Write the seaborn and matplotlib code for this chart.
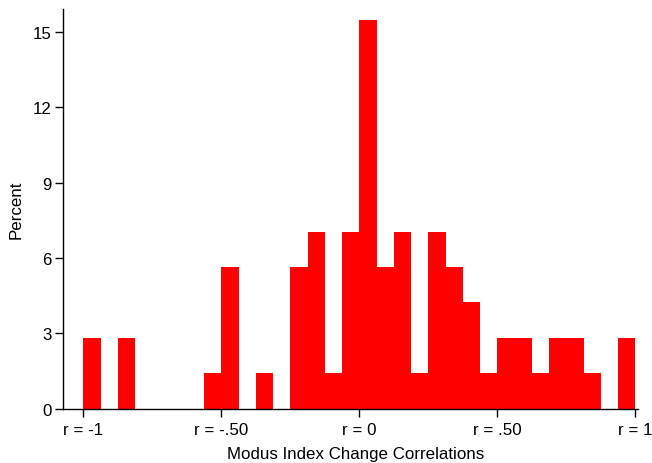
import numpy as np
import pandas as pd
import matplotlib
matplotlib.use("Agg")
import matplotlib.pyplot as plt
import seaborn as sns

# Histogram of correlations: 32 equal bins spanning r = -1 .. 1
bin_lo, bin_hi, n_bins = -1.0, 1.0, 32
bin_counts = [2, 0, 2, 0, 0, 0, 0, 1, 4, 0, 1, 0, 4, 5, 1, 5,
              11, 4, 5, 1, 5, 4, 3, 1, 2, 2, 1, 2, 2, 1, 0, 2]
tick_values = [-1, -0.5, 0, 0.5, 1]
tick_labels = ["r = -1", "r = -.50", "r = 0", "r = .50", "r = 1"]
y_ticks = [0, 3, 6, 9, 12, 15]

edges = np.linspace(bin_lo, bin_hi, n_bins + 1)
centers = (edges[:-1] + edges[1:]) / 2
df = pd.DataFrame({"r": centers, "n": bin_counts})

sns.set_style("ticks")
plt.rcParams["font.family"] = ["Liberation Sans", "DejaVu Sans"]
plt.rcParams["text.color"] = "black"
plt.rcParams["axes.labelcolor"] = "black"
plt.rcParams["xtick.color"] = "black"
plt.rcParams["ytick.color"] = "black"

fig = plt.figure(figsize=(6.52, 4.64), dpi=100)
ax = fig.add_axes([63.3 / 652, 1 - 409.5 / 464, (638 - 63.3) / 652, (409.5 - 10) / 464])

sns.histplot(data=df, x="r", weights="n", bins=n_bins, binrange=(bin_lo, bin_hi),
             stat="percent", color="#ff0000", alpha=1, linewidth=0, ax=ax)

ax.set_xlim(-1.073, 1.01)
ax.set_ylim(0, 15.92)
ax.set_xticks(tick_values)
ax.set_xticklabels(tick_labels)
ax.set_yticks(y_ticks)
ax.set_xlabel("Modus Index Change Correlations", fontsize=12.2)
ax.set_ylabel("Percent", fontsize=12.2)
ax.xaxis.set_label_coords(0.508, -0.093)
ax.yaxis.set_label_coords(-0.069, 0.5)
ax.tick_params(axis="both", labelsize=12.2, length=6, width=1, color="black",
               labelcolor="black", pad=2.5)
ax.tick_params(axis="x", pad=3.5)
for side in ("top", "right"):
    ax.spines[side].set_visible(False)
for side in ("left", "bottom"):
    ax.spines[side].set_color("black")
    ax.spines[side].set_linewidth(1)

fig.savefig("out.png", dpi=100)
